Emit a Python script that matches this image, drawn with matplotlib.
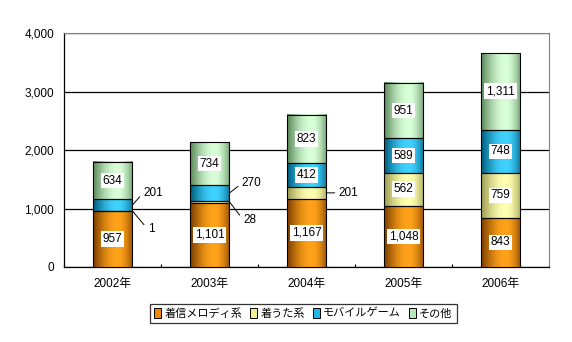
import numpy as np
import matplotlib
matplotlib.use("Agg")
import matplotlib.pyplot as plt
from matplotlib.colors import LinearSegmentedColormap
from matplotlib.patches import Patch

plt.rcParams['font.family'] = ['Liberation Sans', 'Noto Sans CJK JP']

years = ["2002年", "2003年", "2004年", "2005年", "2006年"]
series_names = ["着信メロディ系", "着うた系", "モバイルゲーム", "その他"]
melody = [957, 1101, 1167, 1048, 843]
utatype = [1, 28, 201, 562, 759]
games = [201, 270, 412, 589, 748]
others = [634, 734, 823, 951, 1311]
yticks = [0, 1000, 2000, 3000, 4000]

# dark edge -> highlight colours for the cylinder shading
shades = [("#7a3c00", "#ffa21a"),
          ("#9a9a50", "#ffffb0"),
          ("#005a7a", "#3fd2ff"),
          ("#5a885a", "#d8ffd8")]
solid = ["#f08a00", "#f0f090", "#20b8e8", "#b8e8b8"]

# labels drawn outside the bar: (series, year) -> offset in points
outside = {(2, 0): (8, 9), (1, 0): (11, -13), (2, 1): (9, 7),
           (1, 1): (10, -13), (1, 2): (9, 0)}

fig = plt.figure(figsize=(5.72, 3.42), dpi=100)
ax = fig.add_axes([0.1119, 0.2193, 0.8479, 0.6842])

x = np.arange(len(years))
width = 0.41
data = [melody, utatype, games, others]
bottom = np.zeros(len(years))

t = np.linspace(0, 1, 64)
profile = np.clip(np.sin(np.clip(t / 0.62, 0, 1) * np.pi / 2) * (t <= 0.62)
                  + np.cos((t - 0.62) / 0.38 * np.pi / 2 * 0.85) * (t > 0.62), 0, 1)

for s, vals in enumerate(data):
    bars = ax.bar(x, vals, width, bottom=bottom, color=solid[s],
                  edgecolor="black", linewidth=0.8, zorder=3)
    cmap = LinearSegmentedColormap.from_list("c%d" % s, list(shades[s]))
    for i, b in enumerate(bars):
        x0, y0, w, h = b.get_x(), b.get_y(), b.get_width(), b.get_height()
        ax.imshow(profile[np.newaxis, :], cmap=cmap, vmin=0, vmax=1,
                  extent=[x0, x0 + w, y0, y0 + h], aspect="auto",
                  interpolation="bilinear", zorder=3.5)
        b.set_facecolor("none")
        b.set_zorder(4)
        mid = y0 + h / 2
        if (s, i) in outside:
            dx, dy = outside[(s, i)]
            ax.annotate(f"{vals[i]:,}", xy=(x0 + w, mid), xytext=(dx, dy),
                        textcoords="offset points", ha="left", va="center",
                        fontsize=8.5, zorder=6,
                        arrowprops=dict(arrowstyle="-", lw=0.7, color="black",
                                        shrinkA=1, shrinkB=0, relpos=(0, 0.5)))
        else:
            ax.text(b.get_x() + w / 2, mid, f"{vals[i]:,}", ha="center",
                    va="center", fontsize=8.5, zorder=6,
                    bbox=dict(boxstyle="square,pad=0.15", fc="white", ec="none"))
    bottom += np.array(vals)

ax.set_xlim(-0.5, len(years) - 0.5)
ax.set_ylim(0, 4000)
ax.set_yticks(yticks)
ax.set_yticklabels([f"{v:,}" for v in yticks], fontsize=8.5)
ax.tick_params(axis="y", length=0, pad=7)
ax.set_xticks(x)
ax.set_xticklabels(years, fontsize=8.5)
ax.tick_params(axis="x", length=0, pad=8)
ax.set_xticks(np.arange(len(years) + 1) - 0.5, minor=True)
ax.tick_params(axis="x", which="minor", direction="in", length=2.5, width=0.8)
ax.yaxis.grid(True, color="black", linewidth=0.9, zorder=1)
ax.set_axisbelow(True)
for side in ("top", "right"):
    ax.spines[side].set_color("#808080")
    ax.spines[side].set_linewidth(0.8)
for side in ("left", "bottom"):
    ax.spines[side].set_color("black")
    ax.spines[side].set_linewidth(0.9)

handles = [Patch(facecolor=solid[k], edgecolor="black", linewidth=0.7)
           for k in range(len(series_names))]
leg = fig.legend(handles, series_names, loc="center", ncol=4,
                 bbox_to_anchor=(0.53, 0.083), frameon=True, fancybox=False,
                 edgecolor="black", fontsize=8, handlelength=0.65,
                 handleheight=0.9, handletextpad=0.3, columnspacing=0.7,
                 borderpad=0.35, borderaxespad=0)
leg.get_frame().set_linewidth(0.9)

fig.savefig("out.png", dpi=100)
